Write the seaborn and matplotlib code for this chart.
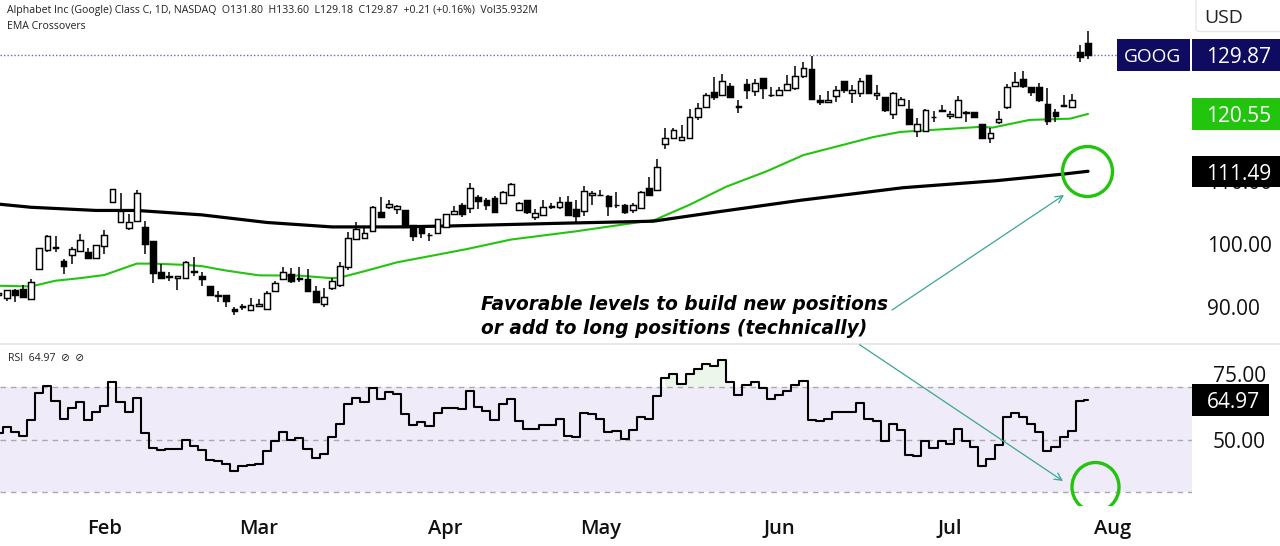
import matplotlib
matplotlib.use("Agg")
import matplotlib.pyplot as plt
from matplotlib.patches import Rectangle, Ellipse, FancyBboxPatch
import numpy as np
import seaborn as sns

opens = [91.9,91.4,92.8,92.9,91.3,96.0,99.1,99.6,97.3,98.2,
 98.9,98.7,97.8,99.7,106.7,103.4,102.6,103.6,102.7,100.5,
 95.6,94.9,94.6,94.7,95.5,95.0,93.3,91.9,92.0,89.7,
 90.2,89.5,90.2,89.7,92.6,94.4,95.3,94.4,94.4,92.5,
 90.5,93.1,93.5,96.4,100.8,100.9,102.0,105.1,105.8,105.6,
 105.4,103.0,102.6,101.5,101.7,102.7,104.8,106.2,105.7,107.4,
 106.9,107.3,106.4,107.7,105.4,107.0,104.2,104.6,106.0,105.9,
 106.6,105.5,105.2,107.7,107.8,107.6,106.2,106.2,105.3,105.7,
 108.8,108.6,115.8,116.8,116.5,116.7,120.1,121.6,124.0,123.5,
 124.9,121.8,125.3,124.2,126.3,123.6,123.5,124.4,124.6,126.5,
 127.6,122.7,122.5,123.4,125.7,123.8,123.8,126.7,123.5,123.3,
 120.6,121.9,121.4,117.8,117.9,120.1,121.2,120.3,120.1,120.7,
 120.8,119.0,116.8,119.2,121.6,125.0,126.0,124.8,124.8,122.1,
 120.8,121.9,121.7,130.3,131.80]
highs = [92.5,92.8,92.9,93.5,94.4,99.4,101.5,101.2,97.7,99.6,
 101.6,99.4,99.8,102.2,108.7,108.1,104.7,108.6,103.6,100.5,
 96.9,95.5,95.0,97.3,97.9,95.6,93.3,92.5,92.0,90.0,
 90.6,91.5,91.3,92.5,94.1,96.3,96.2,96.3,96.0,93.3,
 93.0,94.7,97.2,101.9,103.5,102.7,106.0,107.5,107.0,106.1,
 105.4,103.0,102.7,101.8,104.0,104.8,106.0,106.5,109.6,107.8,
 107.2,107.6,108.3,109.6,106.7,107.0,105.6,106.9,106.5,107.4,
 107.6,107.0,109.2,108.4,108.6,107.7,108.2,106.3,106.4,108.4,
 110.6,113.5,118.3,118.3,118.8,121.3,122.3,123.9,126.4,126.9,
 125.4,122.7,126.0,126.0,126.3,124.8,124.8,126.7,128.1,128.8,
 129.7,123.5,124.2,125.0,125.7,125.1,126.3,126.7,125.1,123.3,
 124.0,123.2,122.7,119.9,121.3,121.0,121.9,121.0,123.4,121.0,
 120.8,119.0,118.4,121.0,125.3,127.2,127.3,124.8,125.4,124.7,
 121.3,123.5,123.7,131.4,133.60]
lows = [91.7,91.0,90.9,91.5,91.3,96.0,98.8,98.8,95.3,96.8,
 98.9,97.6,97.8,98.4,106.7,103.4,102.2,103.6,98.4,93.9,
 94.6,94.2,92.7,94.6,94.9,93.4,91.9,90.9,90.0,88.8,
 89.6,89.5,90.0,89.7,92.6,94.3,93.9,94.0,92.5,90.9,
 90.0,92.8,93.2,95.9,100.8,100.9,102.0,104.2,105.5,104.8,
 102.7,100.4,101.0,100.4,101.6,102.7,104.6,104.2,104.9,105.6,
 105.4,105.1,106.4,107.7,105.4,104.8,103.8,104.5,105.5,105.6,
 104.5,103.4,104.5,106.1,107.6,104.5,105.7,104.8,104.9,105.7,
 107.8,108.6,115.0,116.6,116.5,116.7,119.6,121.6,122.8,123.4,
 123.2,120.7,122.9,123.4,122.9,123.3,123.4,124.4,124.4,126.2,
 122.9,122.0,122.5,122.5,123.9,122.2,123.2,123.9,122.7,120.9,
 119.7,121.8,119.0,116.9,117.7,119.3,120.9,119.8,120.0,119.3,
 120.0,116.8,115.9,119.0,121.3,124.9,124.7,123.4,122.5,118.8,
 119.2,121.6,121.6,128.8,129.18]
closes = [92.3,92.7,92.0,91.7,94.0,99.3,101.2,99.3,96.6,99.2,
 100.7,97.8,99.8,101.4,108.7,105.2,103.4,108.0,100.0,95.4,
 94.7,94.8,94.9,97.1,95.8,94.5,92.0,91.8,91.0,89.4,
 90.0,90.3,90.5,92.2,93.9,95.5,94.1,94.7,92.6,90.9,
 91.6,94.2,96.5,101.0,102.4,101.8,105.8,104.2,106.3,106.0,
 102.7,101.3,101.8,101.4,104.0,104.8,105.2,104.8,108.9,106.8,
 106.1,105.1,108.2,109.5,106.4,105.0,104.9,105.8,105.9,106.7,
 104.6,104.4,108.3,108.1,107.7,106.0,106.1,105.0,106.1,108.2,
 107.8,112.2,116.8,118.0,116.9,120.1,121.5,123.5,123.3,125.8,
 123.3,121.6,124.4,125.4,124.7,123.5,124.4,125.3,126.6,127.8,
 122.9,122.5,122.8,124.4,124.4,124.4,125.8,123.9,123.8,121.2,
 123.8,122.9,119.0,118.9,121.1,120.0,121.0,120.5,122.7,120.9,
 120.1,116.8,117.6,119.7,124.8,125.6,124.9,124.0,122.7,119.5,
 120.2,121.8,122.8,129.6,129.87]

ema_fast_idx = [0,4,7,10,13,15,17,19,23,25,28,32,37,41,42,45,49,57.6,63,71,78,80.7,85,89.5,94.5,99,107.6,110.9,120.7,122.3,126.8,131.8,134]
ema_fast = [93.4,93.3,94.2,94.6,95.1,96.0,96.9,96.9,96.7,96.5,95.8,95.05,95.0,94.6,94.7,95.7,97.1,99.2,100.7,102.0,103.3,103.8,106.2,109.05,111.5,114.05,116.9,117.7,118.5,118.4,119.6,119.8,120.55]
ema_slow_idx = [0,4,12,17,25,33,41,49,55.5,69.9,80.5,88.3,98.6,111.3,122.7,131,134]
ema_slow = [106.3,105.8,105.3,105.3,104.6,103.4,102.7,102.7,102.85,103.3,103.6,105.05,106.9,108.9,110.0,111.05,111.49]

rsi = [52.7,54.7,53.0,51.4,57.5,67.9,70.6,64.6,57.7,61.9,
 64.5,57.4,60.7,63.0,72.0,64.2,60.5,66.0,52.5,46.7,
 45.9,46.3,46.4,49.7,47.7,46.2,42.3,41.7,40.7,37.9,
 40.0,40.3,40.7,45.6,49.5,52.9,49.7,50.8,46.3,42.9,
 44.7,51.1,56.0,63.7,65.7,64.4,69.6,65.4,68.2,67.5,
 59.8,55.5,56.7,55.3,60.3,61.9,62.2,61.6,68.5,62.6,
 60.8,57.6,63.5,65.5,57.2,53.9,53.9,55.7,55.7,57.9,
 51.4,51.1,60.3,59.9,58.0,52.9,53.4,50.4,53.7,58.5,
 57.7,66.8,73.4,74.9,71.2,75.1,76.8,79.0,78.1,80.4,
 72.0,67.0,70.8,72.0,69.6,65.6,67.0,68.4,70.7,72.5,
 57.6,57.1,57.9,60.7,60.7,60.7,63.8,57.9,57.1,49.5,
 56.0,53.7,44.3,43.9,49.6,47.0,49.5,48.3,54.1,49.5,
 47.3,40.0,42.6,47.8,58.8,60.3,58.5,56.1,52.9,45.6,
 47.3,51.1,53.4,64.6,64.97]

month_idx = [13,32,55,74,96,117,137]
month_labels = ["Feb","Mar","Apr","May","Jun","Jul","Aug"]
price_ticks = [90,100,110]
rsi_ticks = [50,75]
last_price, fast_last, slow_last, rsi_last = "129.87","120.55","111.49","64.97"

sns.set_theme(style="white")
plt.rcParams["font.family"] = ["Open Sans", "DejaVu Sans"]

W, H = 1280, 546
fig = plt.figure(figsize=(W/100, H/100), dpi=100, facecolor="white")
def axpx(l, t, r, b):
    return fig.add_axes([l/W, (H-b)/H, (r-l)/W, (b-t)/H])

GREEN = "#22c40e"; NAVY = "#0f0b60"; TEAL = "#3aa694"
STEP = 8.13
xlim = (1.4/STEP, (1192+1.4)/STEP)

ax = axpx(0, 0, 1192, 343)
idx = np.arange(len(opens))
o, h, l, c = map(np.array, (opens, highs, lows, closes))
sns.lineplot(x=ema_fast_idx, y=ema_fast, ax=ax, color=GREEN, lw=1.5, estimator=None, zorder=1)
sns.lineplot(x=ema_slow_idx, y=ema_slow, ax=ax, color="black", lw=2.3, estimator=None, zorder=1)
ax.axhline(129.87, color="#6a6aa5", lw=1, ls=(0, (1, 1.5)), zorder=0.5)
ax.vlines(idx, l, h, color="black", lw=1.1, zorder=2)
up = c >= o
ax.bar(idx[up], (c-o)[up], bottom=o[up], width=0.7, facecolor="white", edgecolor="black", lw=1.05, zorder=3)
ax.bar(idx[~up], (c-o)[~up], bottom=o[~up], width=0.7, facecolor="black", edgecolor="black", lw=1.05, zorder=3)
ax.set_xlim(*xlim)
ax.set_ylim(100-(343-244)/6.33, 100+244/6.33)
ax.set_xticks([])
ax.yaxis.tick_right()
ax.set_yticks(price_ticks)
ax.set_yticklabels([f"{v:.2f}" for v in price_ticks])
ax.tick_params(axis="y", length=0, pad=11, labelsize=15, labelcolor="#111111")
for s in ax.spines.values():
    s.set_visible(False)

ar = axpx(0, 345, 1192, 505)
r = np.array(rsi)
ar.axhspan(30, 70, color="#efebf9", lw=0, zorder=0)
for lev in (30, 50, 70):
    ar.axhline(lev, color="#a8a8ae", lw=1, ls=(0, (4, 3.5)), zorder=1)
ar.fill_between(idx, 70, r, where=r > 70, step="mid", color="#edf6ea", lw=0, zorder=0.5)
sns.lineplot(x=idx, y=r, ax=ar, color="black", lw=1.5, estimator=None, drawstyle="steps-mid", zorder=2)
ar.set_xlim(*xlim)
ar.set_ylim(50-(505-439.7)/2.625, 50+(439.7-345)/2.625)
ar.yaxis.tick_right()
ar.set_yticks(rsi_ticks)
ar.set_yticklabels([f"{v:.2f}" for v in rsi_ticks])
ar.tick_params(axis="y", length=0, pad=15, labelsize=15, labelcolor="#111111")
ar.set_xticks(month_idx)
ar.set_xticklabels(month_labels)
ar.tick_params(axis="x", length=0, pad=10, labelsize=14.5, labelcolor="#111111")
for t in ar.get_xticklabels():
    t.set_fontweight("semibold")
ar.set_xlim(*xlim)
for s in ar.spines.values():
    s.set_visible(False)

ov = fig.add_axes([0, 0, 1, 1], facecolor="none", zorder=10)
ov.set_xlim(0, W); ov.set_ylim(H, 0); ov.axis("off")
ov.plot([0, W], [343.5, 343.5], color="#e8e8e8", lw=1.4)

def tag(x0, x1, y0, y1, col, txt, right, size=15):
    ov.add_patch(Rectangle((x0, y0), x1-x0, y1-y0, facecolor=col, edgecolor="none", zorder=5))
    ov.text(right, (y0+y1)/2, txt, color="white", ha="right", va="center_baseline", fontsize=size, zorder=6)

ov.add_patch(Rectangle((1190, 39), 2, 32, facecolor="white", edgecolor="none", zorder=4))
tag(1116.5, 1190, 39, 71, NAVY, "GOOG", 1181, size=13.8)
tag(1192, 1280, 39, 71, NAVY, last_price, 1271)
tag(1192, 1280, 98, 130, GREEN, fast_last, 1271)
tag(1192, 1280, 156, 187, "black", slow_last, 1271)
tag(1192, 1269, 384, 416, "black", rsi_last, 1260)
ov.add_patch(FancyBboxPatch((1196, -8), 100, 39.5, boxstyle="round,pad=0,rounding_size=3",
                            facecolor="white", edgecolor="#e6e6e6", lw=1))
ov.text(1204, 16, "USD", fontsize=14, color="#222222", ha="left", va="center_baseline")

ov.text(7, 9, "Alphabet Inc (Google) Class C, 1D, NASDAQ  O131.80  H133.60  L129.18  C129.87  +0.21 (+0.16%)  Vol35.932M",
        fontsize=7.6, color="#222222", va="center_baseline")
ov.text(7, 25, "EMA Crossovers", fontsize=7.6, color="#222222", va="center_baseline")
ov.text(8, 357, "RSI  64.97  \u2298  \u2298", fontsize=7.6, color="#222222", va="center_baseline")

for yy, txt in ((303, "Favorable levels to build new positions"), (326, "or add to long positions (technically)")):
    ov.text(481, yy, txt, fontsize=13.35, fontweight="bold", fontstyle="italic", color="black",
            family="DejaVu Sans", va="center_baseline")

ov.annotate("", xy=(1064, 195), xytext=(892, 310),
            arrowprops=dict(arrowstyle="->", color=TEAL, lw=0.9, mutation_scale=13, shrinkA=0, shrinkB=0))
ov.annotate("", xy=(1063, 481), xytext=(859.6, 344.7),
            arrowprops=dict(arrowstyle="->", color=TEAL, lw=0.9, mutation_scale=13, shrinkA=0, shrinkB=0))

ov.add_patch(Ellipse((1087.5, 171.5), 50, 50, facecolor="none", edgecolor=GREEN, lw=2.4, zorder=3))
ring = Ellipse((1095.5, 487), 47, 49, facecolor="none", edgecolor=GREEN, lw=2.4, zorder=3)
ov.add_patch(ring)
clip = Rectangle((1060, 455), 70, 51, transform=ov.transData)
ring.set_clip_path(clip)

fig.savefig("out.png", dpi=100, facecolor="white")
